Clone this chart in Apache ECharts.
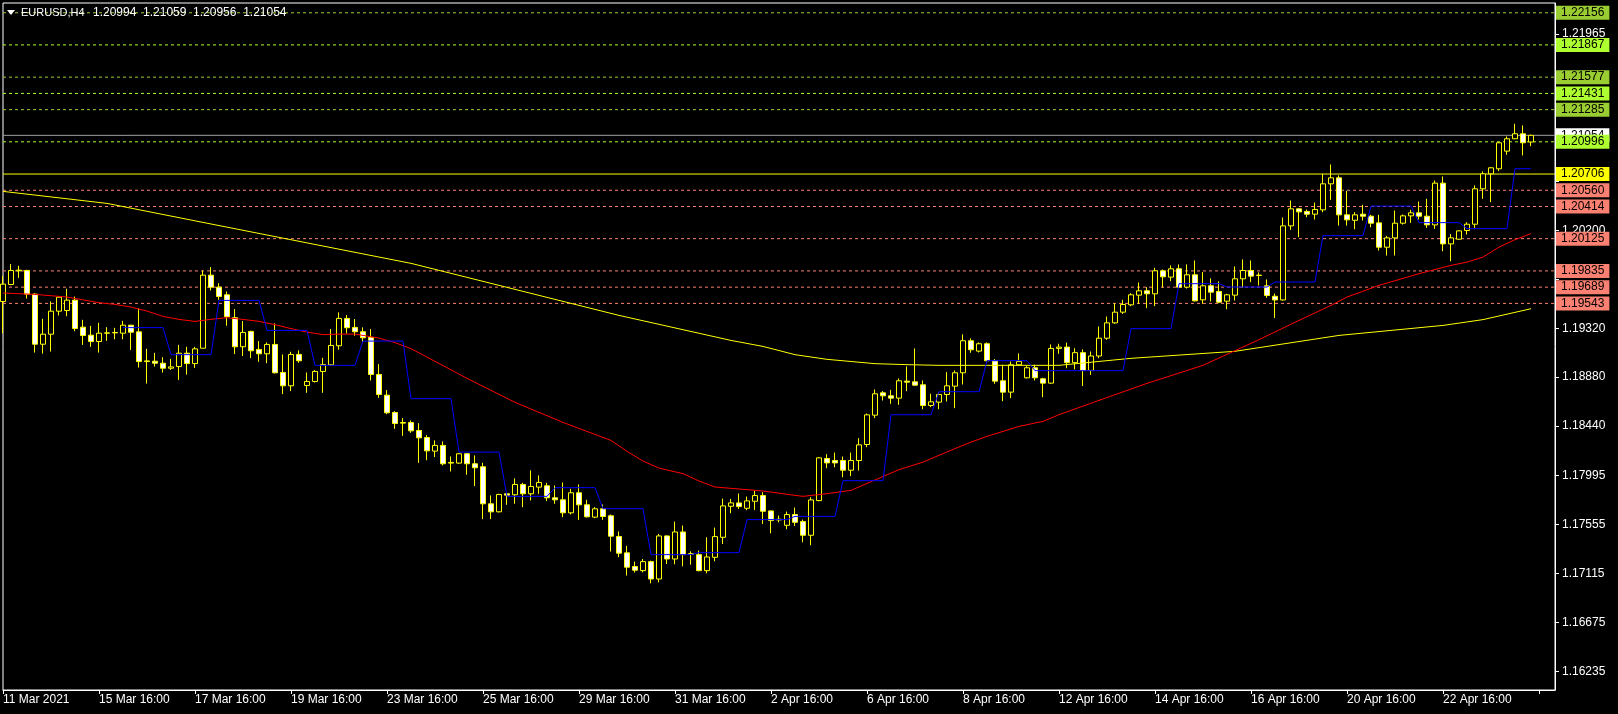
<!DOCTYPE html>
<html><head><meta charset="utf-8">
<script src="https://cdn.jsdelivr.net/npm/echarts@6/dist/echarts.min.js"></script>
<style>html,body{margin:0;padding:0;background:#000;}#c{width:1618px;height:714px;}</style>
</head><body><div id="c"></div>
<script>
// ---- data ----
const symbolName = 'EURUSD,H4';
const headerOHLC = ['1.20994', '1.21059', '1.20956', '1.21054'];
const tickLabels = ['11 Mar 2021','15 Mar 16:00','17 Mar 16:00','19 Mar 16:00','23 Mar 16:00','25 Mar 16:00','29 Mar 16:00','31 Mar 16:00','2 Apr 16:00','6 Apr 16:00','8 Apr 16:00','12 Apr 16:00','14 Apr 16:00','16 Apr 16:00','20 Apr 16:00','22 Apr 16:00'];
const priceTicks = [1.16235,1.16675,1.17115,1.17555,1.17995,1.18440,1.18880,1.19320,1.19760,1.20200,1.20640,1.21085,1.21525,1.21965];
const priceLabels = [1.16235,1.16675,1.17115,1.17555,1.17995,1.18440,1.18880,1.19320,1.20200,1.21965];
const upperLevels = [1.22156,1.21867,1.21577,1.21431,1.21285,1.20996];
const lowerLevels = [1.20560,1.20414,1.20125,1.19835,1.19689,1.19543];
const pivotLevel = 1.20706;
const lastPrice = 1.21054;
// candles: [open, close, low, high]
const candles = [
[1.19560,1.19716,1.19275,1.19791],[1.19713,1.19839,1.19707,1.19896],[1.19836,1.19842,1.19773,1.19881],[1.19839,1.19626,1.19587,1.19845],
[1.19626,1.19176,1.19101,1.19635],[1.19176,1.19266,1.19092,1.19404],[1.19266,1.19473,1.19110,1.19560],[1.19473,1.19599,1.19434,1.19605],
[1.19479,1.19572,1.19428,1.19674],[1.19572,1.19317,1.19293,1.19605],[1.19329,1.19254,1.19170,1.19395],[1.19257,1.19200,1.19152,1.19341],
[1.19200,1.19275,1.19101,1.19368],[1.19275,1.19278,1.19206,1.19329],[1.19278,1.19281,1.19221,1.19323],[1.19275,1.19347,1.19221,1.19386],
[1.19347,1.19284,1.19125,1.19350],[1.19287,1.19020,1.18966,1.19497],[1.19020,1.19026,1.18822,1.19134],[1.19023,1.19005,1.18975,1.19098],
[1.19005,1.18960,1.18921,1.19059],[1.18960,1.18972,1.18945,1.19044],[1.18975,1.19095,1.18855,1.19170],[1.19095,1.19002,1.18903,1.19152],
[1.19002,1.19134,1.18963,1.19152],[1.19140,1.19797,1.19140,1.19839],[1.19797,1.19689,1.19659,1.19869],[1.19689,1.19605,1.19575,1.19725],
[1.19620,1.19423,1.19342,1.19650],[1.19414,1.19153,1.19087,1.19492],[1.19153,1.19282,1.19069,1.19384],[1.19291,1.19117,1.19051,1.19297],
[1.19129,1.19090,1.19018,1.19204],[1.19090,1.19174,1.19006,1.19192],[1.19174,1.18919,1.18913,1.19363],[1.18922,1.18802,1.18727,1.19084],
[1.18802,1.19084,1.18754,1.19108],[1.19084,1.19027,1.19009,1.19120],[1.18805,1.18841,1.18739,1.18922],[1.18841,1.18931,1.18832,1.18943],
[1.18931,1.18994,1.18739,1.19054],[1.18991,1.19165,1.18985,1.19312],[1.19162,1.19408,1.19126,1.19462],[1.19408,1.19324,1.19273,1.19438],
[1.19327,1.19288,1.19252,1.19402],[1.19288,1.19234,1.19198,1.19327],[1.19237,1.18904,1.18850,1.19312],[1.18904,1.18724,1.18694,1.18997],
[1.18718,1.18559,1.18547,1.18763],[1.18562,1.18463,1.18415,1.18574],[1.18466,1.18472,1.18352,1.18511],[1.18472,1.18397,1.18379,1.18490],
[1.18400,1.18334,1.18109,1.18466],[1.18337,1.18217,1.18133,1.18358],[1.18215,1.18266,1.18161,1.18311],[1.18266,1.18101,1.18086,1.18302],
[1.18107,1.18113,1.18032,1.18167],[1.18107,1.18191,1.18101,1.18197],[1.18191,1.18101,1.18002,1.18197],[1.18101,1.18065,1.17900,1.18176],
[1.18074,1.17741,1.17603,1.18110],[1.17741,1.17669,1.17603,1.17816],[1.17669,1.17825,1.17663,1.17831],[1.17831,1.17819,1.17732,1.17837],
[1.17822,1.17915,1.17741,1.17969],[1.17915,1.17831,1.17711,1.17930],[1.17831,1.17897,1.17771,1.18041],[1.17891,1.17933,1.17831,1.17996],
[1.17903,1.17795,1.17765,1.17930],[1.17795,1.17777,1.17741,1.17906],[1.17777,1.17660,1.17621,1.17933],[1.17660,1.17840,1.17645,1.17876],
[1.17840,1.17732,1.17597,1.17915],[1.17732,1.17624,1.17618,1.17777],[1.17621,1.17696,1.17612,1.17711],[1.17696,1.17627,1.17597,1.17735],
[1.17633,1.17450,1.17312,1.17645],[1.17447,1.17297,1.17261,1.17492],[1.17300,1.17171,1.17096,1.17363],[1.17177,1.17144,1.17123,1.17222],
[1.17140,1.17221,1.17125,1.17245],[1.17221,1.17065,1.17026,1.17230],[1.17065,1.17452,1.17035,1.17470],[1.17452,1.17245,1.17200,1.17458],
[1.17245,1.17488,1.17197,1.17581],[1.17488,1.17284,1.17179,1.17545],[1.17287,1.17293,1.17194,1.17314],[1.17284,1.17140,1.17134,1.17320],
[1.17140,1.17263,1.17116,1.17440],[1.17260,1.17446,1.17224,1.17527],[1.17440,1.17722,1.17380,1.17788],[1.17719,1.17749,1.17656,1.17785],
[1.17749,1.17716,1.17695,1.17833],[1.17701,1.17767,1.17683,1.17806],[1.17764,1.17815,1.17686,1.17860],[1.17815,1.17674,1.17560,1.17845],
[1.17677,1.17590,1.17476,1.17680],[1.17596,1.17602,1.17575,1.17635],[1.17548,1.17644,1.17512,1.17671],[1.17644,1.17575,1.17542,1.17707],
[1.17581,1.17458,1.17395,1.17599],[1.17458,1.17776,1.17368,1.17800],[1.17770,1.18154,1.17764,1.18160],[1.18148,1.18109,1.18061,1.18187],
[1.18130,1.18109,1.18070,1.18202],[1.18130,1.18043,1.17980,1.18166],[1.18043,1.18130,1.17990,1.18202],[1.18130,1.18271,1.18040,1.18331],
[1.18274,1.18541,1.18250,1.18553],[1.18538,1.18730,1.18511,1.18769],[1.18739,1.18712,1.18670,1.18754],[1.18712,1.18691,1.18640,1.18766],
[1.18691,1.18847,1.18631,1.18868],[1.18844,1.18835,1.18754,1.18976],[1.18838,1.18808,1.18802,1.19138],[1.18811,1.18625,1.18592,1.18850],
[1.18625,1.18658,1.18610,1.18730],[1.18655,1.18724,1.18592,1.18742],[1.18724,1.18802,1.18661,1.18925],[1.18799,1.18919,1.18601,1.18940],
[1.18919,1.19207,1.18814,1.19264],[1.19207,1.19126,1.19099,1.19228],[1.19114,1.19180,1.19102,1.19192],[1.19180,1.19027,1.19021,1.19192],
[1.19027,1.18844,1.18820,1.19042],[1.18847,1.18745,1.18664,1.18991],[1.18745,1.18991,1.18691,1.19021],[1.18991,1.19021,1.18985,1.19093],
[1.18874,1.18964,1.18868,1.18979],[1.18964,1.18874,1.18850,1.18991],[1.18865,1.18826,1.18700,1.18874],[1.18826,1.19138,1.18820,1.19174],
[1.19138,1.19150,1.19090,1.19180],[1.19150,1.19010,1.18960,1.19190],[1.19010,1.19100,1.18950,1.19140],[1.19100,1.18940,1.18800,1.19130],
[1.18940,1.19070,1.18900,1.19110],[1.19070,1.19230,1.19050,1.19335],[1.19230,1.19368,1.19215,1.19425],[1.19368,1.19464,1.19359,1.19545],
[1.19464,1.19533,1.19449,1.19575],[1.19530,1.19620,1.19518,1.19635],[1.19617,1.19656,1.19539,1.19731],[1.19656,1.19629,1.19500,1.19689],
[1.19629,1.19836,1.19518,1.19863],[1.19836,1.19782,1.19686,1.19848],[1.19779,1.19854,1.19743,1.19884],[1.19854,1.19689,1.19683,1.19893],
[1.19689,1.19800,1.19677,1.19893],[1.19800,1.19566,1.19560,1.19929],[1.19575,1.19701,1.19539,1.19824],[1.19701,1.19644,1.19560,1.19767],
[1.19650,1.19554,1.19545,1.19740],[1.19563,1.19620,1.19491,1.19629],[1.19617,1.19764,1.19569,1.19875],[1.19764,1.19839,1.19683,1.19938],
[1.19839,1.19788,1.19734,1.19929],[1.19797,1.19794,1.19704,1.19821],[1.19701,1.19614,1.19593,1.19758],[1.19607,1.19574,1.19412,1.19631],
[1.19574,1.20240,1.19568,1.20315],[1.20240,1.20393,1.20204,1.20468],[1.20393,1.20366,1.20138,1.20399],[1.20369,1.20345,1.20318,1.20387],
[1.20345,1.20387,1.20297,1.20450],[1.20384,1.20618,1.20363,1.20708],[1.20618,1.20672,1.20474,1.20792],[1.20672,1.20339,1.20243,1.20693],
[1.20339,1.20294,1.20243,1.20555],[1.20290,1.20339,1.20210,1.20363],[1.20345,1.20327,1.20288,1.20429],[1.20327,1.20264,1.20228,1.20339],
[1.20267,1.20048,1.20018,1.20339],[1.20048,1.20132,1.19973,1.20150],[1.20132,1.20264,1.19973,1.20378],[1.20264,1.20330,1.20252,1.20342],
[1.20330,1.20357,1.20267,1.20384],[1.20357,1.20327,1.20297,1.20459],[1.20327,1.20249,1.20222,1.20483],[1.20249,1.20624,1.20213,1.20648],
[1.20624,1.20078,1.20012,1.20684],[1.20078,1.20132,1.19922,1.20165],[1.20120,1.20195,1.20117,1.20201],[1.20198,1.20255,1.20162,1.20273],
[1.20255,1.20573,1.20222,1.20603],[1.20573,1.20708,1.20483,1.20729],[1.20708,1.20762,1.20453,1.20768],[1.20753,1.20987,1.20732,1.20993],
[1.20912,1.21023,1.20879,1.21044],[1.21023,1.21068,1.21020,1.21158],[1.21068,1.20987,1.20873,1.21143],[1.20994,1.21054,1.20956,1.21059]
];
// blue step indicator, one value per bar
const blueLine = [
null,null,null,null,null,null,null,null,null,null,null,null,null,null,null,
1.19325,1.19325,1.19325,1.19325,1.19325,1.19325,
1.19082,1.19082,1.19082,1.19082,1.19082,1.19082,
1.19570,1.19570,1.19570,1.19570,1.19570,1.19570,
1.19300,1.19300,1.19300,1.19300,1.19300,1.19300,
1.18986,1.18986,1.18986,1.18986,1.18986,1.18986,
1.19204,1.19204,1.19204,1.19204,1.19204,1.19204,
1.18686,1.18686,1.18686,1.18686,1.18686,1.18686,
1.18206,1.18206,1.18206,1.18206,1.18206,1.18206,
1.17808,1.17808,1.17808,1.17808,1.17808,1.17808,
1.17886,1.17886,1.17886,1.17886,1.17886,1.17886,
1.17697,1.17697,1.17697,1.17697,1.17697,1.17697,
1.17284,1.17284,1.17284,1.17284,1.17284,1.17284,
1.17302,1.17302,1.17302,1.17302,1.17302,1.17302,
1.17599,1.17599,1.17599,1.17599,1.17599,1.17599,
1.17628,1.17628,1.17628,1.17628,1.17628,1.17628,
1.17949,1.17949,1.17949,1.17949,1.17949,1.17949,
1.18542,1.18542,1.18542,1.18542,1.18542,1.18542,
1.18749,1.18749,1.18749,1.18749,1.18749,1.18749,
1.19028,1.19028,1.19028,1.19028,1.19028,1.19028,
1.18938,1.18938,1.18938,1.18938,1.18938,1.18938,1.18938,1.18938,1.18938,1.18938,1.18938,1.18938,
1.19316,1.19316,1.19316,1.19316,1.19316,1.19316,
1.19720,1.19720,1.19720,1.19720,1.19720,1.19720,
1.19690,1.19690,1.19690,1.19690,1.19690,1.19690,
1.19735,1.19735,1.19735,1.19735,1.19735,1.19735,
1.20152,1.20152,1.20152,1.20152,1.20152,1.20152,
1.20418,1.20418,1.20418,1.20418,1.20418,1.20418,
1.20269,1.20269,1.20269,1.20269,1.20269,1.20269,
1.20215,1.20215,1.20215,1.20215,1.20215,1.20215,
1.20754,1.20754,1.20754
];
// red moving average, sampled [bar, value]
const redMA = [[0,1.19636],[4,1.19624],[8,1.19600],[12,1.19549],[14,1.19534],[16,1.19510],[18,1.19474],[20,1.19426],[22,1.19399],[24,1.19381],[25,1.19390],[27,1.19408],[28,1.19414],[30,1.19399],[32,1.19381],[34,1.19352],[36,1.19316],[38,1.19285],[40,1.19262],[42,1.19267],[44,1.19267],[47,1.19231],[49,1.19190],[51,1.19136],[53,1.19060],[58,1.18869],[64,1.18653],[70,1.18473],[76,1.18311],[78,1.18213],[80,1.18125],[82,1.18062],[85,1.18012],[87,1.17946],[89,1.17892],[91,1.17880],[95,1.17856],[99,1.17817],[100,1.17808],[103,1.17832],[106,1.17862],[112,1.18048],[115,1.18116],[117,1.18177],[119,1.18237],[121,1.18296],[123,1.18347],[125,1.18392],[127,1.18437],[130,1.18482],[132,1.18542],[137,1.18671],[143,1.18824],[150,1.18986],[157,1.19217],[162,1.19390],[166,1.19525],[168,1.19600],[172,1.19705],[177,1.19810],[181,1.19885],[183,1.19914],[185,1.19959],[187,1.20049],[189,1.20116],[191,1.20170]];
// yellow moving average, sampled [bar, value]
const yellowMA = [[0,1.20550],[13,1.20442],[25,1.20271],[38,1.20087],[51,1.19903],[64,1.19669],[77,1.19435],[91,1.19210],[95,1.19156],[99,1.19082],[103,1.19040],[109,1.19001],[113,1.18992],[117,1.18986],[125,1.18986],[132,1.18986],[141,1.19049],[154,1.19112],[167,1.19255],[180,1.19345],[185,1.19397],[191,1.19495]];
const emptyBarsRight = 3;

// ---- chart ----
const FONT = '"Liberation Sans", Arial, sans-serif';
const nCat = candles.length + emptyBarsRight;
const cats = Array.from({length: nCat}, (_, i) => String(i));
const upperColors = ['#9ACD32', '#ADFF2F'];

// horizontal level drawn as a two-point line across the plot with a boxed end label
const levelSeries = (v, color, type, bg, z) => ({
  type: 'line', silent: true, symbol: 'none', z: z,
  data: [[0, v], [nCat - 1, v]],
  lineStyle: {color: color, type: type, width: 1},
  endLabel: {show: true, distance: 1, formatter: () => v.toFixed(5), backgroundColor: bg,
             color: '#000', padding: [1, 5, 1, 5], fontSize: 12, fontFamily: FONT, lineHeight: 12,
             align: 'left', verticalAlign: 'middle'}
});
const levelList = [];
levelList.push(levelSeries(lastPrice, '#a0a0a0', 'solid', '#ffffff', 5));
upperLevels.forEach((v, i) => levelList.push(levelSeries(v, upperColors[i % 2], [3, 3], upperColors[i % 2], 6)));
levelList.push(levelSeries(pivotLevel, '#ffff00', 'solid', '#ffff00', 6));
lowerLevels.forEach(v => levelList.push(levelSeries(v, '#FA8072', [3, 3], '#FA8072', 6)));

const chart = echarts.init(document.getElementById('c'), null, {renderer: 'canvas'});
chart.setOption({
  backgroundColor: '#000',
  animation: false,
  textStyle: {fontFamily: FONT},
  grid: {left: 3, right: 63, top: 3, bottom: 24, show: true, borderColor: '#ffffff', borderWidth: 1, backgroundColor: '#000'},
  xAxis: {
    type: 'category', data: cats, boundaryGap: false,
    axisLine: {lineStyle: {color: '#ffffff'}},
    axisTick: {show: true, interval: 11, length: 4, lineStyle: {color: '#ffffff'}},
    axisLabel: {interval: 11, color: '#ffffff', fontSize: 12, fontFamily: FONT, align: 'left', margin: 4,
      formatter: (v, idx) => (idx % 12 === 0 && tickLabels[idx / 12]) ? tickLabels[idx / 12] : ''},
    splitLine: {show: false}
  },
  yAxis: {
    type: 'value', position: 'right', min: 1.160669, max: 1.222438, scale: true,
    axisLine: {show: true, lineStyle: {color: '#ffffff'}},
    axisTick: {show: true, length: 4, customValues: priceTicks, lineStyle: {color: '#ffffff'}},
    axisLabel: {color: '#ffffff', fontSize: 12, fontFamily: FONT, margin: 7, customValues: priceLabels,
      formatter: v => v.toFixed(5)},
    splitLine: {show: false}
  },
  series: levelList.concat([
    {
      type: 'candlestick', data: candles, barWidth: 5, z: 7,
      itemStyle: {color: '#000000', color0: '#ffffff', borderColor: '#ffff00', borderColor0: '#ffff00', borderWidth: 1}
    },
    {type: 'line', data: yellowMA, symbol: 'none', z: 8, silent: true, lineStyle: {color: '#ffff00', width: 1}},
    {type: 'line', data: redMA, symbol: 'none', z: 8, silent: true, lineStyle: {color: '#ff0000', width: 1}},
    {type: 'line', data: blueLine, symbol: 'none', z: 8, silent: true, connectNulls: false, lineStyle: {color: '#0000ff', width: 1}}
  ]),
  graphic: [
    {type: 'polygon', shape: {points: [[7, 10], [15, 10], [11, 15]]}, style: {fill: '#ffffff'}, z: 100},
    {type: 'text', x: 21, y: 13, z: 100, style: {text: symbolName, fill: '#ffffff', font: '11px ' + FONT, verticalAlign: 'middle'}},
    {type: 'text', x: 93, y: 13, z: 100, style: {text: headerOHLC.join('  '), fill: '#ffffff', font: '12px ' + FONT, verticalAlign: 'middle'}}
  ]
});
</script></body></html>
